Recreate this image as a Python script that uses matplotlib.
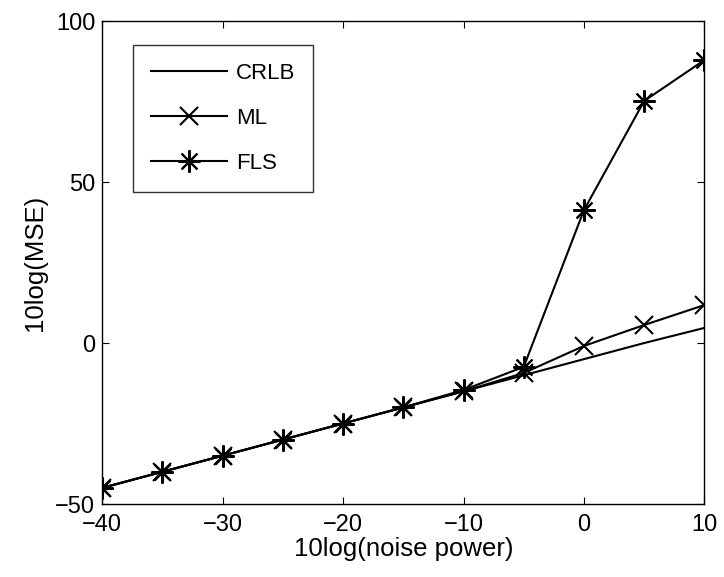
import matplotlib
matplotlib.use("Agg")
import matplotlib.pyplot as plt

noise_db = [-40, -35, -30, -25, -20, -15, -10, -5, 0, 5, 10]
crlb = [-45, -40, -35, -30, -25, -20, -15, -10, -5, 0, 4.7]
ml = [-45, -40, -35, -30, -25, -20, -15, -9.3, -0.9, 5.6, 11.8]
fls = [-45, -40, -35, -30, -25, -20, -14.6, -7.4, 41.3, 75.2, 87.9]

plt.rcParams['font.family'] = ['Liberation Sans', 'DejaVu Sans']

fig = plt.figure(figsize=(7.24, 5.77), dpi=100)
ax = fig.add_axes([0.141, 0.1265, 0.832, 0.837])

ax.plot(noise_db, crlb, "k-", lw=1.5, label="CRLB")
ax.plot(noise_db, ml, "k-", marker="x", ms=13, mew=1.5, lw=1.5, label="ML")
ax.plot(noise_db, fls, "k-", marker=(8, 2, 0), ms=16, mew=1.5, lw=1.5, label="FLS")

ax.set_xlim(-40, 10)
ax.set_ylim(-50, 100)
ax.set_xticks([-40, -30, -20, -10, 0, 10])
ax.set_yticks([-50, 0, 50, 100])
ax.set_xticklabels(["\u221240", "\u221230", "\u221220", "\u221210", "0", "10"])
ax.set_yticklabels(["\u221250", "0", "50", "100"])
ax.tick_params(direction="in", top=True, right=True, length=5, width=0.8, labelsize=17)
ax.tick_params(axis="x", pad=7)
ax.tick_params(axis="y", pad=5)
for s in ax.spines.values():
    s.set_linewidth(1.0)

ax.set_xlabel("10log(noise power)", fontsize=18.5, labelpad=1)
ax.set_ylabel("10log(MSE)", fontsize=18.5, labelpad=6)

leg = ax.legend(loc="upper left", bbox_to_anchor=(0.052, 0.95), borderaxespad=0,
                fancybox=False, edgecolor="black", handlelength=3.4,
                handletextpad=0.4, labelspacing=1.08, borderpad=0.8, fontsize=16)
leg.get_frame().set_linewidth(1.0)

fig.savefig("out.png", dpi=100)
